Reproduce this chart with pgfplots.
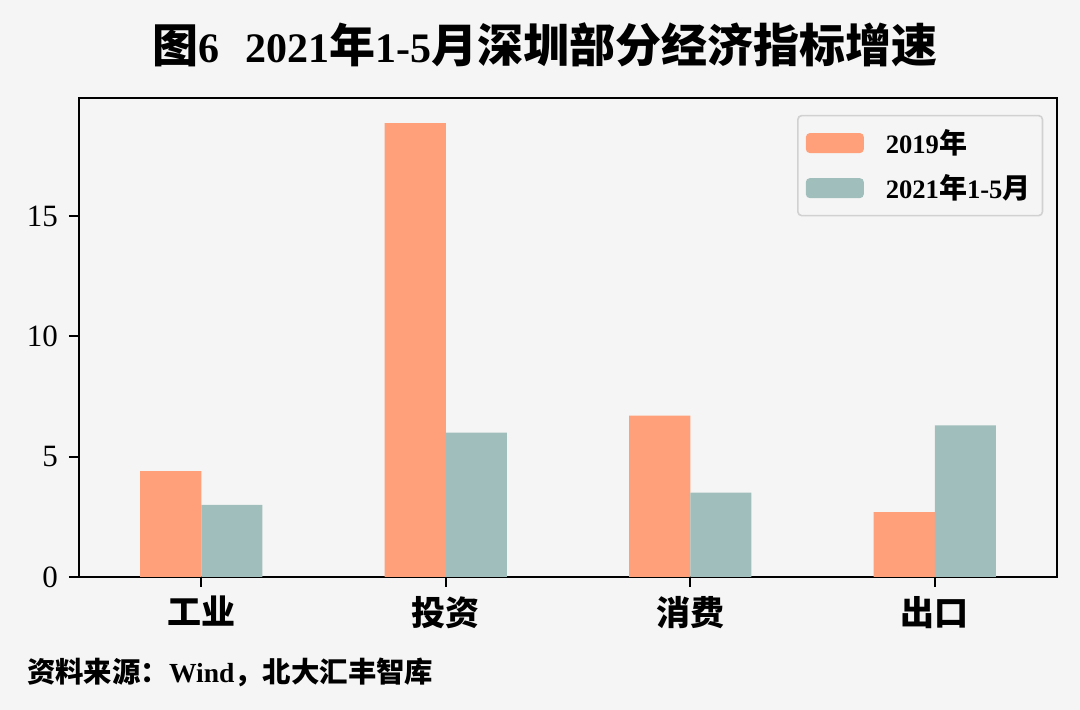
\documentclass[border=0pt]{standalone}
\usepackage{pgfplots}
\pgfplotsset{compat=1.18}
\usepackage{fontspec}
\setmainfont{Liberation Serif}
\newfontfamily\cjk{Noto Sans CJK SC}
\definecolor{bg}{HTML}{F5F5F5}
\definecolor{cA}{HTML}{FFA07A}
\definecolor{cB}{HTML}{A0BFBC}
\newcommand{\tc}[1]{{\cjk\bfseries\fontsize{23}{26}\selectfont #1}}
\newcommand{\lc}[1]{{\cjk\bfseries\fontsize{14}{16}\selectfont #1}}
\begin{document}
\begin{tikzpicture}
\fill[bg] (0,0) rectangle (540pt,355pt);
\begin{axis}[
  at={(39.5pt,66.5pt)}, anchor=south west,
  scale only axis, width=489pt, height=239.5pt,
  xmin=-0.5, xmax=3.5, ymin=0, ymax=19.9,
  xtick={0,1,2,3},
  xticklabels={工业,投资,消费,出口},
  xticklabel style={font=\cjk\bfseries\fontsize{17}{19}\selectfont, yshift=-1pt},
  ytick={0,5,10,15},
  yticklabel style={font=\fontsize{15.5}{17}\selectfont, xshift=-2pt},
  /pgf/number format/assume math mode=true,
  tick align=outside, major tick length=5pt,
  tick style={line width=0.9pt, black},
  axis line style={line width=0.9pt},
  xtick pos=bottom, ytick pos=left,
  axis background/.style={fill=bg},
  ybar, bar width=0.25,
  legend style={at={(0.986,0.965)}, anchor=north east, draw=black!18, line width=0.8pt,
    rounded corners=2pt, fill=bg, font=\bfseries\fontsize{13.3}{15}\selectfont,
    row sep=5pt, inner xsep=4pt, inner ysep=5pt,
    /tikz/every even column/.append style={column sep=4pt}},
  legend cell align=left,
  legend image code/.code={\fill[#1] (0pt,-5pt) rectangle (29pt,5pt);},
]
\addplot[fill=cA, draw=none, bar shift=-0.125] coordinates {(0,4.4) (1,18.86) (2,6.7) (3,2.7)};
\addlegendentry{\hspace{9pt}2019\lc{年}}
\addplot[fill=cB, draw=none, bar shift=0.125] coordinates {(0,3.0) (1,6.0) (2,3.5) (3,6.3)};
\addlegendentry{\hspace{9pt}2021\lc{年}1-5\lc{月}}
\end{axis}
\node[font=\bfseries\fontsize{21}{26}\selectfont] at (272.5pt,332.5pt) {\tc{图}6\hspace{13pt}2021\tc{年}1-5\tc{月深圳部分经济指标增速}};
\node[anchor=west, font=\bfseries\fontsize{13.8}{16}\selectfont] at (10pt,19pt) {{\cjk\fontsize{14.2}{16}\selectfont 资料来源：}Wind{\cjk\fontsize{14.2}{16}\selectfont ，北大汇丰智库}};
\end{tikzpicture}
\end{document}
